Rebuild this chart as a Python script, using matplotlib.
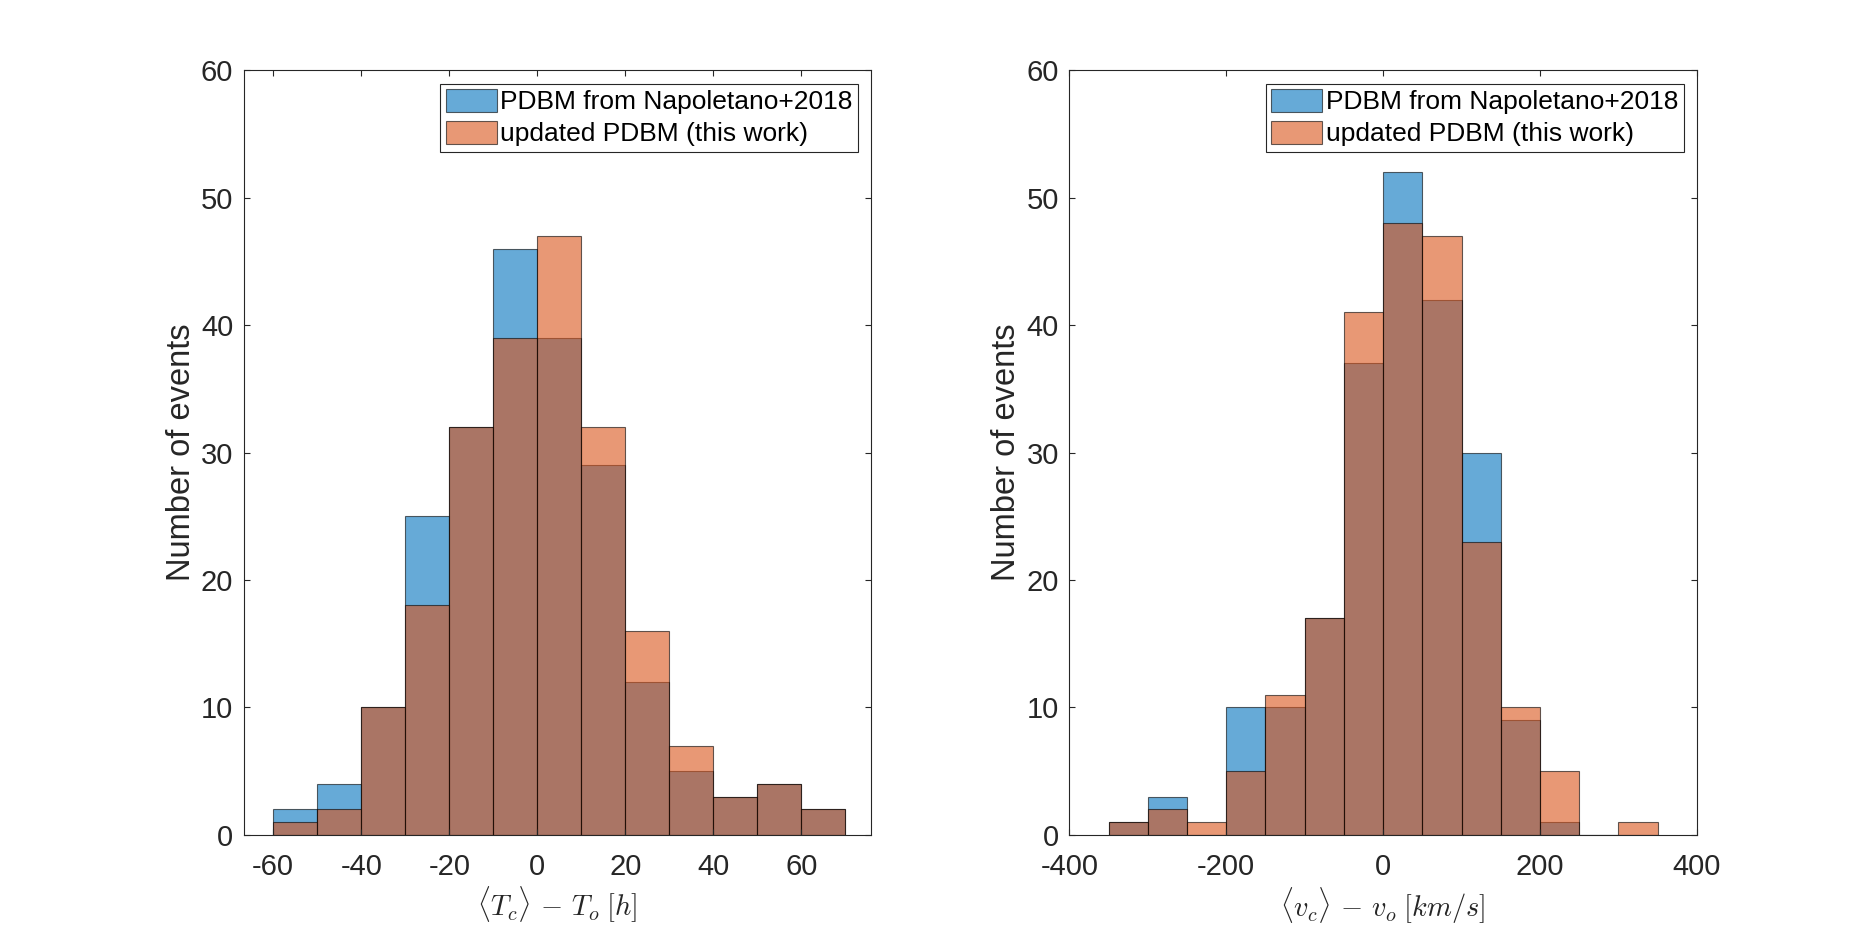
import numpy as np
import matplotlib
matplotlib.use("Agg")
import matplotlib.pyplot as plt

# Left panel: arrival-time error histogram (bin width 10 h)
t_edges = np.arange(-60, 71, 10)
t_old = [2, 4, 10, 25, 32, 46, 39, 29, 12, 5, 3, 4, 2]
t_new = [1, 2, 10, 18, 32, 39, 47, 32, 16, 7, 3, 4, 2]

# Right panel: speed error histogram (bin width 50 km/s)
v_edges = np.arange(-350, 351, 50)
v_old = [1, 3, 0, 10, 10, 17, 37, 52, 42, 30, 9, 1, 0, 0]
v_new = [1, 2, 1, 5, 11, 17, 41, 48, 47, 23, 10, 5, 0, 1]

labels = ["PDBM from Napoletano+2018", "updated PDBM (this work)"]
BLUE = (0.0, 0.447, 0.741)
ORANGE = (0.85, 0.325, 0.098)
GRAY = "#262626"

plt.rcParams["font.family"] = ["Liberation Sans", "DejaVu Sans"]
plt.rcParams["mathtext.fontset"] = "cm"
plt.rcParams["axes.unicode_minus"] = False

fig = plt.figure(figsize=(18.75, 9.38), dpi=100)
ax1 = fig.add_axes([0.13, 0.11, 0.3347, 0.815])
ax2 = fig.add_axes([0.5703, 0.11, 0.3347, 0.815])


def draw_panel(ax, edges, old, new, xlim, xticks, xlabel):
    width = edges[1] - edges[0]
    for counts, color, lab in [(old, BLUE, labels[0]), (new, ORANGE, labels[1])]:
        ax.bar(edges[:-1], counts, width=width, align="edge", color=color,
               alpha=0.6, edgecolor="black", linewidth=0.8, label=lab)
    ax.set_xlim(*xlim)
    ax.set_ylim(0, 60)
    ax.set_xticks(xticks)
    ax.set_yticks(np.arange(0, 61, 10))
    ax.tick_params(direction="in", length=4.5, width=0.8, colors=GRAY,
                   labelsize=21, top=True, right=True)
    ax.tick_params(axis="x", pad=13)
    ax.tick_params(axis="y", pad=7.5)
    for sp in ax.spines.values():
        sp.set_color(GRAY)
        sp.set_linewidth(0.8)
    ax.set_ylabel("Number of events", fontsize=23.5, color=GRAY, labelpad=3)
    ax.set_xlabel(xlabel, fontsize=20.5, color=GRAY, labelpad=3)
    leg = ax.legend(loc="upper right", fontsize=19, fancybox=False,
                    edgecolor=GRAY, framealpha=1, borderpad=0.2,
                    labelspacing=0.25, handlelength=1.93, handleheight=0.95,
                    handletextpad=0.15, borderaxespad=0.5)
    leg.get_frame().set_linewidth(0.8)
    for h in leg.legend_handles:
        h.set_alpha(0.6)


draw_panel(ax1, t_edges, t_old, t_new, (-66.7, 75.9), np.arange(-60, 61, 20),
           r"$\langle T_c \rangle \,-\, T_o\;[h]$")
draw_panel(ax2, v_edges, v_old, v_new, (-400, 400), np.arange(-400, 401, 200),
           r"$\langle v_c \rangle \,-\, v_o\;[km/s]$")

plt.savefig("out.png", dpi=100)
plt.close()
